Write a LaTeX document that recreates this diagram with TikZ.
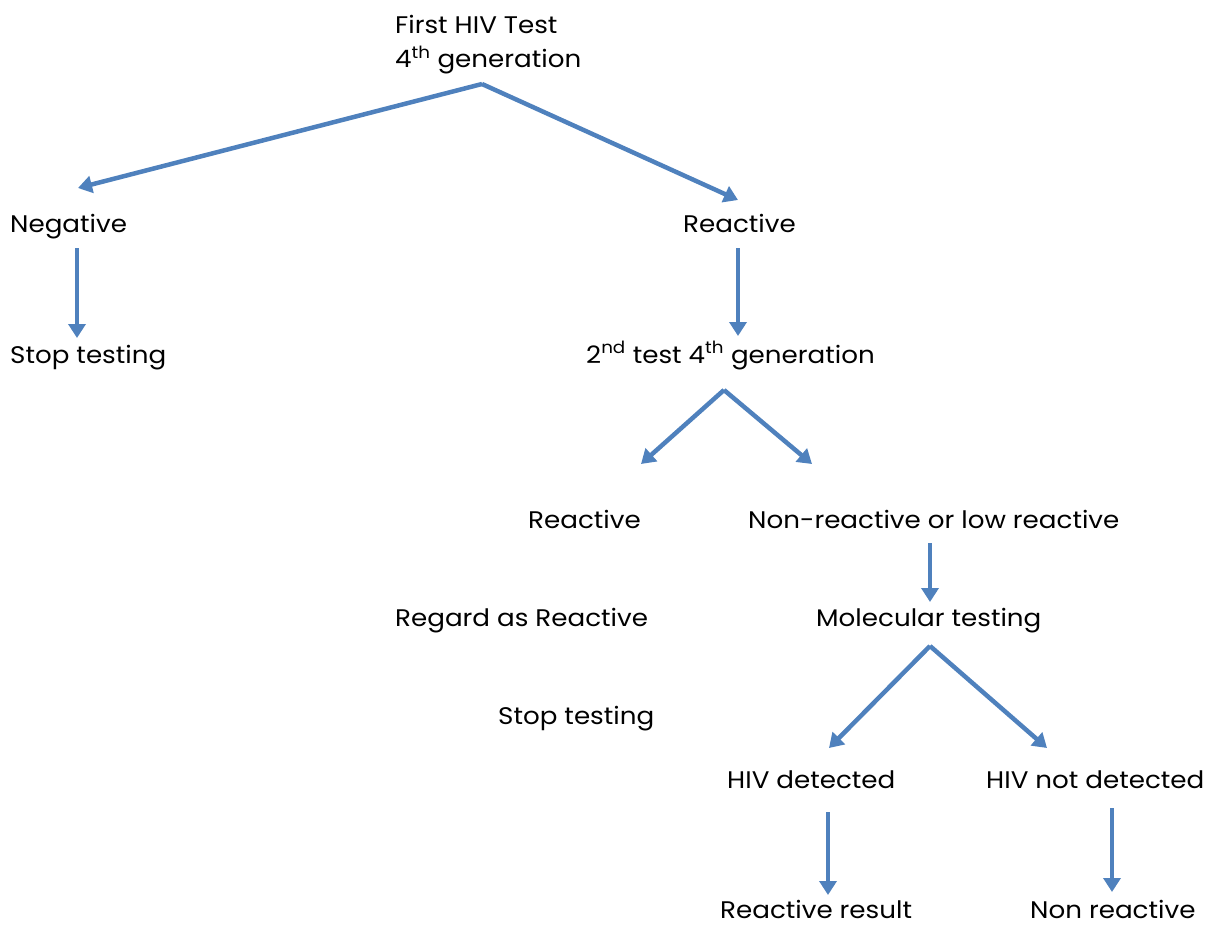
\documentclass[tikz,border=0pt]{standalone}
\usepackage{fontspec}
\setmainfont{Poppins}[FakeStretch=1.09]
\usetikzlibrary{arrows.meta}
\definecolor{arrowblue}{HTML}{4F81BD}
\begin{document}
\begin{tikzpicture}[x=1pt,y=-1pt,
  lbl/.style={anchor=base west,inner sep=0pt,font=\fontsize{24}{34}\selectfont,text=black},
  arr/.style={draw=arrowblue,line width=4.5pt,-{Triangle[length=14pt,width=17pt]}}]
\useasboundingbox (0,0) rectangle (1214,925);
\node[lbl,align=left,anchor=north west] (first) at (395,15) {First HIV Test\\4\textsuperscript{th} generation};
\node[lbl] (neg) at (10,233) {Negative};
\node[lbl] (react1) at (683,233) {Reactive};
\node[lbl] (stop1) at (10,363) {Stop testing};
\node[lbl] (second) at (586,363) {2\textsuperscript{nd} test 4\textsuperscript{th} generation};
\node[lbl] (react2) at (528,528) {Reactive};
\node[lbl] (nonr) at (748,528) {Non-reactive or low reactive};
\node[lbl] (regard) at (395,626) {Regard as Reactive};
\node[lbl] (mol) at (816,626) {Molecular testing};
\node[lbl] (stop2) at (498,724) {Stop testing};
\node[lbl] (hivd) at (727,788) {HIV detected};
\node[lbl] (hivnd) at (986,788) {HIV not detected};
\node[lbl] (reactres) at (720,918) {Reactive result};
\node[lbl] (nonreact) at (1030,918) {Non reactive};
% connector end points
\coordinate (firstS) at (482,84);
\coordinate (negN) at (78,188);
\coordinate (react1N) at (738,200);
\coordinate (negS) at (77,248);
\coordinate (stop1N) at (77,338);
\coordinate (react1S) at (738,248);
\coordinate (secondN) at (738,336);
\coordinate (secondS) at (724,390);
\coordinate (react2N) at (641,464);
\coordinate (nonrNW) at (812,464);
\coordinate (nonrS) at (930,543);
\coordinate (molN) at (930,602);
\coordinate (molS) at (930,646);
\coordinate (hivdN) at (829,748);
\coordinate (hivndN) at (1047,748);
\coordinate (hivdS) at (828,812);
\coordinate (reactresN) at (828,895);
\coordinate (hivndS) at (1112,808);
\coordinate (nonreactN) at (1112,892);
\draw[arr] (firstS) -- (negN);
\draw[arr] (firstS) -- (react1N);
\draw[arr] (negS) -- (stop1N);
\draw[arr] (react1S) -- (secondN);
\draw[arr] (secondS) -- (react2N);
\draw[arr] (secondS) -- (nonrNW);
\draw[arr] (nonrS) -- (molN);
\draw[arr] (molS) -- (hivdN);
\draw[arr] (molS) -- (hivndN);
\draw[arr] (hivdS) -- (reactresN);
\draw[arr] (hivndS) -- (nonreactN);
\end{tikzpicture}
\end{document}
